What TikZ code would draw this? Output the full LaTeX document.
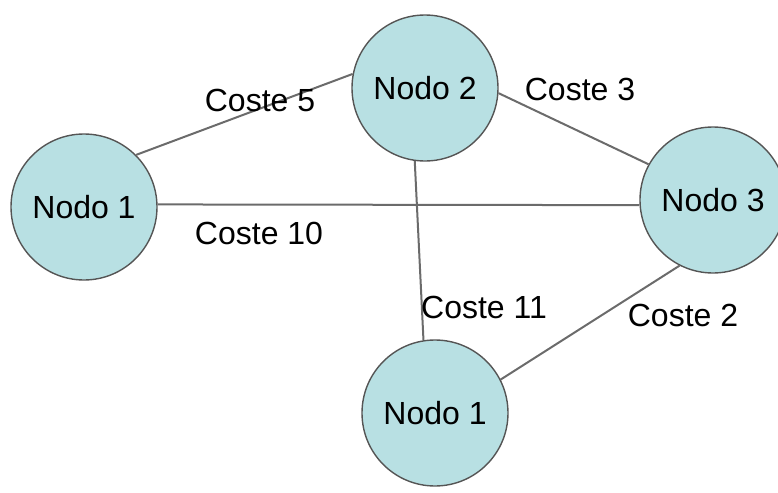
\documentclass[tikz,border=0pt]{standalone}
\usepackage{fontspec}
\setmainfont{Liberation Sans}
\usetikzlibrary{positioning}
\definecolor{cNodo}{HTML}{B8E0E3}
\definecolor{cBorde}{HTML}{555555}
\definecolor{cArista}{HTML}{6B6B6B}

\begin{document}
\begin{tikzpicture}[
  x=0.5pt, y=-0.5pt,
  font=\fontsize{16}{19}\selectfont,
  nodo/.style   = {circle, draw=cBorde, line width=0.7pt, fill=cNodo,
                   minimum size=73pt, inner sep=0pt},
  arista/.style = {draw=cArista, line width=1pt},
  coste/.style  = {inner sep=0pt}]

\useasboundingbox (0,0) rectangle (778,493);

% ---- the four nodes ---------------------------------------------------------
\node[nodo] (n1)  at (84,207)  {Nodo 1};
\node[nodo] (n2)  at (425,88)  {Nodo 2};
\node[nodo] (n3)  at (713,200) {Nodo 3};
\node[nodo] (n1b) at (435,413) {Nodo 1};

% ---- edges ------------------------------------------------------------------
\draw[arista] (n1.45)  -- (n2.169);
\draw[arista] (n1.2)   -- (n3.184);
\draw[arista] (n2.-4)  -- (n3.151);
\draw[arista] (n2.262) -- (n1b.99);
\draw[arista] (n3.243) -- (n1b.27);

% ---- costs ------------------------------------------------------------------
\node[coste] (c5)  at (260,100) {Coste 5};
\node[coste] (c3)  at (580,89)  {Coste 3};
\node[coste] (c10) at (259,233) {Coste 10};
\node[coste] (c11) at (484,307) {Coste 11};
\node[coste] (c2)  at (683,315) {Coste 2};

\end{tikzpicture}
\end{document}
